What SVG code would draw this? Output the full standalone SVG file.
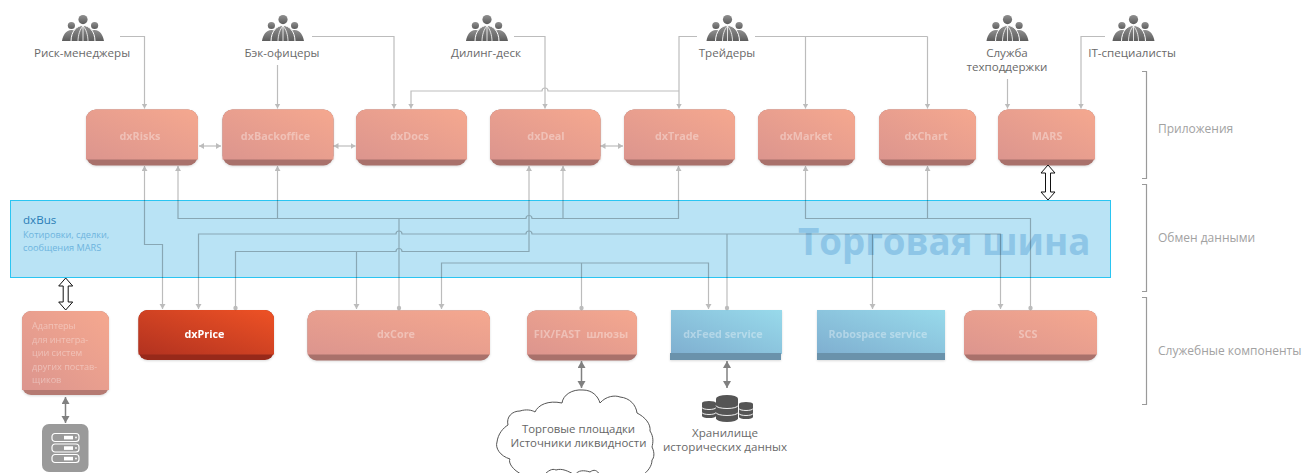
<svg xmlns="http://www.w3.org/2000/svg" xmlns:xlink="http://www.w3.org/1999/xlink" width="1304" height="473" viewBox="0 0 1304 473">
<style>
text{font-family:"Open Sans","Noto Sans","Liberation Sans",sans-serif}
.lab{font-size:11.6px;fill:#6a6a6a;text-anchor:middle}
.side{font-size:12px;fill:#a2a2a2}
.nm{font-size:10.8px;font-weight:700;fill:#fff;fill-opacity:.36;text-anchor:middle}
.ad{font-size:9.1px;fill:#fff;fill-opacity:.36}
.c{fill:none;stroke:#000;stroke-width:1.2}
.br{fill:none;stroke:#9a9a9a;stroke-width:1.2}
.thick{fill:none;stroke:#808080;stroke-width:1.5;marker-start:url(#ga);marker-end:url(#ga)}
.dbl{fill:#fff;stroke:#111;stroke-width:1}
.srv{fill:none;stroke:#fff;stroke-width:1.2}
.node{filter:drop-shadow(0 1px 1px rgba(0,0,0,.14))}
</style>
<defs>
<linearGradient id="sal" x1="0" y1="1" x2="1" y2="0"><stop offset="0" stop-color="#dc958e"/><stop offset="1" stop-color="#f5a88f"/></linearGradient>
<linearGradient id="red" x1="0" y1="1" x2="1" y2="0"><stop offset="0" stop-color="#b23220"/><stop offset="1" stop-color="#ee5225"/></linearGradient>
<linearGradient id="blu" x1="0" y1="1" x2="1" y2="0"><stop offset="0" stop-color="#7fafd0"/><stop offset="1" stop-color="#98daeb"/></linearGradient>
<linearGradient id="ppl" x1="0" y1="0" x2="0" y2="1"><stop offset="0" stop-color="#909090"/><stop offset="1" stop-color="#5c5c5c"/></linearGradient>
<marker id="a" markerUnits="userSpaceOnUse" markerWidth="7" markerHeight="7" refX="5" refY="3" orient="auto-start-reverse"><path d="M0 0L5 3L0 6Z" fill="#000"/></marker>
<marker id="d" markerUnits="userSpaceOnUse" markerWidth="6" markerHeight="6" refX="3" refY="3"><circle cx="3" cy="3" r="2.2" fill="#000"/></marker>
<marker id="ga" markerUnits="userSpaceOnUse" markerWidth="9" markerHeight="9" refX="7" refY="4" orient="auto-start-reverse"><path d="M0 0L7 4L0 8Z" fill="#808080"/></marker>
<symbol id="people" overflow="visible" viewBox="0 0 42 27" width="42" height="27">
<circle cx="21" cy="4.6" r="4.6" fill="url(#ppl)"/>
<circle cx="9.4" cy="10.5" r="3.6" fill="url(#ppl)"/>
<circle cx="32.6" cy="10.5" r="3.6" fill="url(#ppl)"/>
<path d="M0 26C1 20 4 15 9.400 15C15 15 18 20 18 26ZM42 26C41 20 38 15 32.600 15C27 15 24 20 24 26Z" fill="url(#ppl)"/>
<path d="M9 26.500C9 16 15 10.500 21 10.500C27 10.500 33 16 33 26.500Z" fill="url(#ppl)" stroke="#fff" stroke-width="1"/>
<path d="M16 26.500C16 20 18 14 21 11M26 26.500C26 20 24 14 21 11M21 11V26.500" fill="none" stroke="#fff" stroke-width=".8"/>
</symbol>
<g id="cyl"><path d="M0 3.500A11 3.500 0 0 1 22 3.500V23.500A11 3.500 0 0 1 0 23.500Z" fill="#555"/><path d="M0 10.500A11 3 0 0 0 22 10.500M0 17.500A11 3 0 0 0 22 17.500" fill="none" stroke="#fff" stroke-width=".9"/></g>
<g id="cyls"><path d="M0 2A7 2 0 0 1 14 2V15A7 2 0 0 1 0 15Z" fill="#555"/><path d="M0 6.500A7 2 0 0 0 14 6.500M0 11.500A7 2 0 0 0 14 11.500" fill="none" stroke="#fff" stroke-width=".9"/></g>
<g id="unit"><rect x="0" y="0" width="27" height="8" rx="3" class="srv"/><rect x="12" y="2.300" width="9" height="3.600" fill="#fff"/><circle cx="24" cy="4" r=".9" fill="#fff"/></g>
</defs>

<g id="dxBus">
<rect x="10.500" y="200.500" width="1100" height="77" fill="#b9e3f5" stroke="#2ac5f2" stroke-width="1"/>
<text x="23" y="224" font-size="11.6" fill="#2a7db6">dxBus</text>
<text x="23" y="238" font-size="9.200" fill="#6db4de">Котировки, сделки,</text>
<text x="23" y="251" font-size="9.200" fill="#6db4de">сообщения MARS</text>
<text x="798" y="255" font-size="36.700" font-weight="700" fill="#8ec6e7">Торговая шина</text>
</g>

<g id="dxRisks" class="node"><rect x="86" y="109.500" width="112" height="56" rx="10" fill="#a9716b"/><path d="M96 109.500H188a10 10 0 0 1 10 10V159.500H86V119.500a10 10 0 0 1 10-10Z" fill="url(#sal)"/><text class="nm" x="140" y="140">dxRisks</text></g>
<g id="dxBackoffice" class="node"><rect x="222.500" y="109.500" width="111" height="56" rx="10" fill="#a9716b"/><path d="M232.500 109.500H323.500a10 10 0 0 1 10 10V159.500H222.500V119.500a10 10 0 0 1 10-10Z" fill="url(#sal)"/><text class="nm" x="275.500" y="140">dxBackoffice</text></g>
<g id="dxDocs" class="node"><rect x="356" y="109.500" width="111" height="56" rx="10" fill="#a9716b"/><path d="M366 109.500H457a10 10 0 0 1 10 10V159.500H356V119.500a10 10 0 0 1 10-10Z" fill="url(#sal)"/><text class="nm" x="409.500" y="140">dxDocs</text></g>
<g id="dxDeal" class="node"><rect x="490" y="109.500" width="110.500" height="56" rx="10" fill="#a9716b"/><path d="M500 109.500H590.500a10 10 0 0 1 10 10V159.500H490V119.500a10 10 0 0 1 10-10Z" fill="url(#sal)"/><text class="nm" x="546" y="140">dxDeal</text></g>
<g id="dxTrade" class="node"><rect x="624" y="109.500" width="111" height="56" rx="10" fill="#a9716b"/><path d="M634 109.500H725a10 10 0 0 1 10 10V159.500H624V119.500a10 10 0 0 1 10-10Z" fill="url(#sal)"/><text class="nm" x="677" y="140">dxTrade</text></g>
<g id="dxMarket" class="node"><rect x="758" y="109.500" width="97" height="56" rx="10" fill="#a9716b"/><path d="M768 109.500H845a10 10 0 0 1 10 10V159.500H758V119.500a10 10 0 0 1 10-10Z" fill="url(#sal)"/><text class="nm" x="806" y="140">dxMarket</text></g>
<g id="dxChart" class="node"><rect x="879" y="109.500" width="97" height="56" rx="10" fill="#a9716b"/><path d="M889 109.500H966a10 10 0 0 1 10 10V159.500H879V119.500a10 10 0 0 1 10-10Z" fill="url(#sal)"/><text class="nm" x="926" y="140">dxChart</text></g>
<g id="MARS" class="node"><rect x="998" y="109.500" width="97" height="56" rx="10" fill="#a9716b"/><path d="M1008 109.500H1085a10 10 0 0 1 10 10V159.500H998V119.500a10 10 0 0 1 10-10Z" fill="url(#sal)"/><text class="nm" x="1047" y="140">MARS</text></g>

<g id="adapters" class="node"><rect x="22" y="311" width="87" height="84" rx="9" fill="#b57a72"/><path d="M31 311H100a9 9 0 0 1 9 9V390H22V320a9 9 0 0 1 9-9Z" fill="url(#sal)"/>
<text class="ad" x="32" y="329">Адаптеры</text><text class="ad" x="32" y="342.500">для интегра-</text><text class="ad" x="32" y="356">ции систем</text><text class="ad" x="32" y="369.500">других постав-</text><text class="ad" x="32" y="383">щиков</text></g>
<g id="dxPrice" class="node"><rect x="138.500" y="310" width="135.500" height="50" rx="9" fill="#97291a"/><path d="M147.500 310H265a9 9 0 0 1 9 9V354.500H138.500V319a9 9 0 0 1 9-9Z" fill="url(#red)"/><text class="nm" style="fill-opacity:1" x="204.500" y="338">dxPrice</text></g>
<g id="dxCore" class="node"><rect x="307.500" y="310.500" width="182.500" height="50" rx="9" fill="#a9716b"/><path d="M316.500 310.500H481a9 9 0 0 1 9 9V354.500H307.500V319.500a9 9 0 0 1 9-9Z" fill="url(#sal)"/><text class="nm" x="396" y="338">dxCore</text></g>
<g id="fixfast" class="node"><rect x="527" y="310.500" width="110" height="50" rx="9" fill="#a9716b"/><path d="M536 310.500H628a9 9 0 0 1 9 9V354.500H527V319.500a9 9 0 0 1 9-9Z" fill="url(#sal)"/><text class="nm" x="581" y="338" xml:space="preserve">FIX/FAST  шлюзы</text></g>
<g id="dxFeed" class="node"><rect x="671" y="310" width="111" height="44" fill="url(#blu)"/><rect x="670" y="353" width="111" height="7" fill="#6a92ab"/><text class="nm" x="723" y="338">dxFeed service</text></g>
<g id="robospace" class="node"><rect x="817" y="310" width="128" height="44" fill="url(#blu)"/><rect x="817" y="353" width="128" height="7" fill="#6a92ab"/><text class="nm" x="878" y="338">Robospace service</text></g>
<g id="SCS" class="node"><rect x="964" y="310.500" width="133" height="50" rx="9" fill="#a9716b"/><path d="M973 310.500H1088a9 9 0 0 1 9 9V354.500H964V319.500a9 9 0 0 1 9-9Z" fill="url(#sal)"/><text class="nm" x="1028" y="338">SCS</text></g>

<g id="connectors">
<g opacity=".26">
<path class="c" marker-end="url(#a)" d="M120 36.500H144.500V108.500"/>
<path class="c" marker-end="url(#a)" d="M277.500 65V108.500"/>
<path class="c" marker-end="url(#a)" d="M312 36.500H394V108.500"/>
<path class="c" marker-end="url(#a)" d="M514 36.500H545V108.500"/>
<path class="c" marker-end="url(#a)" d="M697 36.500H679V108.500"/>
<path class="c" d="M755 36.500H927.500"/>
<path class="c" marker-end="url(#a)" d="M805.500 36.500V108.500"/>
<path class="c" marker-end="url(#a)" d="M927.500 36.500V108.500"/>
<path class="c" marker-end="url(#a)" d="M679 91H548a3 3 0 0 0-6 0H411V108.500"/>
<path class="c" marker-end="url(#a)" d="M1007.500 79V108.500"/>
<path class="c" marker-end="url(#a)" d="M1105 36.500H1081V108.500"/>
<path class="c" marker-start="url(#a)" marker-end="url(#a)" d="M144.500 166V244.500H162.500V309"/>
<path class="c" marker-start="url(#a)" d="M178 166V218.500H526a3 3 0 0 1 6 0H678.500V166.500"/>
<path class="c" marker-start="url(#a)" d="M678.500 166V170"/>
<path class="c" marker-start="url(#a)" d="M277.500 166V218.500"/>
<path class="c" marker-start="url(#a)" d="M563 166V218.500"/>
<path class="c" marker-start="url(#a)" marker-end="url(#d)" d="M805.500 166V218.500H1030.500V308"/>
<path class="c" marker-start="url(#a)" d="M927.500 166V218.500"/>
<path class="c" marker-start="url(#a)" marker-end="url(#d)" d="M529 166V251.500H402a3 3 0 0 0-6 0H235.500V308"/>
<path class="c" marker-end="url(#a)" d="M356.500 251.500V309"/>
<path class="c" marker-start="url(#a)" marker-end="url(#a)" d="M198.500 309V234H396a3 3 0 0 1 6 0H526a3 3 0 0 1 6 0H1000.500V309"/>
<path class="c" marker-end="url(#d)" d="M727 234V308"/>
<path class="c" marker-end="url(#a)" d="M872.500 234V309"/>
<path class="c" marker-end="url(#d)" d="M399 218.500V308"/>
<path class="c" marker-start="url(#a)" marker-end="url(#a)" d="M441.500 309V263H708.500V309"/>
<path class="c" marker-end="url(#d)" d="M581.500 263V308"/>
<path class="c" marker-start="url(#a)" marker-end="url(#a)" d="M199 146H221"/>
<path class="c" marker-start="url(#a)" marker-end="url(#a)" d="M333.500 146H355.500"/>
<path class="c" marker-start="url(#a)" marker-end="url(#a)" d="M600.500 146H623"/>
</g>
<path class="thick" d="M65.500 397V423"/>
<path class="thick" d="M581.500 361V388"/>
<path class="thick" d="M727 361V388"/>
<path class="dbl" d="M1048 165l7 8h-4.500v19h4.500l-7 8l-7-8h4.500v-19h-4.500Z"/>
<path class="dbl" d="M65.700 278l7 8h-4.500v16h4.500l-7 8l-7-8h4.500v-16h-4.500Z"/>
</g>

<g id="riskManagers"><use href="#people" x="62" y="15"/><text class="lab" x="82" y="57">Риск-менеджеры</text></g>
<g id="backOfficers"><use href="#people" x="262" y="15"/><text class="lab" x="282" y="57">Бэк-офицеры</text></g>
<g id="dealingDesk"><use href="#people" x="466" y="15"/><text class="lab" x="486" y="57">Дилинг-деск</text></g>
<g id="traders"><use href="#people" x="706.500" y="15"/><text class="lab" x="727" y="57">Трейдеры</text></g>
<g id="support"><use href="#people" x="986.500" y="15"/><text class="lab" x="1007" y="57">Служба</text><text class="lab" x="1007" y="71">техподдержки</text></g>
<g id="itSpecialists"><use href="#people" x="1112.500" y="15"/><text class="lab" x="1132" y="57">IT-специалисты</text></g>

<g id="layers">
<path class="br" d="M1142 71.500H1146.500V178.500H1142"/>
<path class="br" d="M1142 184.500H1146.500V291.500H1142"/>
<path class="br" d="M1142 297.500H1146.500V404.500H1142"/>
<text class="side" x="1158" y="133">Приложения</text>
<text class="side" x="1158" y="242">Обмен данными</text>
<text class="side" x="1158" y="355">Служебные компоненты</text>
</g>

<g id="markets">
<path d="M523 475C512 470 508 462 510 459C500 456 495 448 497 442C498 434 503 428 508 425C506 417 512 411 520 411C526 409 532 410 535 412C538 405 548 400 562 403C563 395 572 389 583 390C592 390 598 396 600 403C606 396 615 395 620 397C630 398 636 405 637 413C645 417 651 424 650 431C654 437 653 443 652 447C655 453 654 458 652 460C652 466 648 471 643 475L600 475C597 470 594 469 590 472C584 470 578 470 575 475C568 471 562 468 556 470C552 468 548 471 544 475Z" fill="#fff" stroke="#555" stroke-width="1"/>
<text x="578.500" y="433" font-size="11.4" fill="#666" text-anchor="middle">Торговые площадки</text>
<text x="578.500" y="447" font-size="11.4" fill="#666" text-anchor="middle">Источники ликвидности</text>
</g>

<g id="history">
<use href="#cyls" x="702" y="401"/>
<use href="#cyls" x="739" y="402"/>
<use href="#cyl" x="716" y="395"/>
<text class="lab" x="725" y="437">Хранилище</text>
<text class="lab" x="725" y="451">исторических данных</text>
</g>

<g id="server">
<rect x="42" y="424" width="46.500" height="48" rx="7" fill="#9a9a9a"/>
<use href="#unit" x="52" y="433.500"/>
<use href="#unit" x="52" y="444"/>
<use href="#unit" x="52" y="454.500"/>
</g>
</svg>
